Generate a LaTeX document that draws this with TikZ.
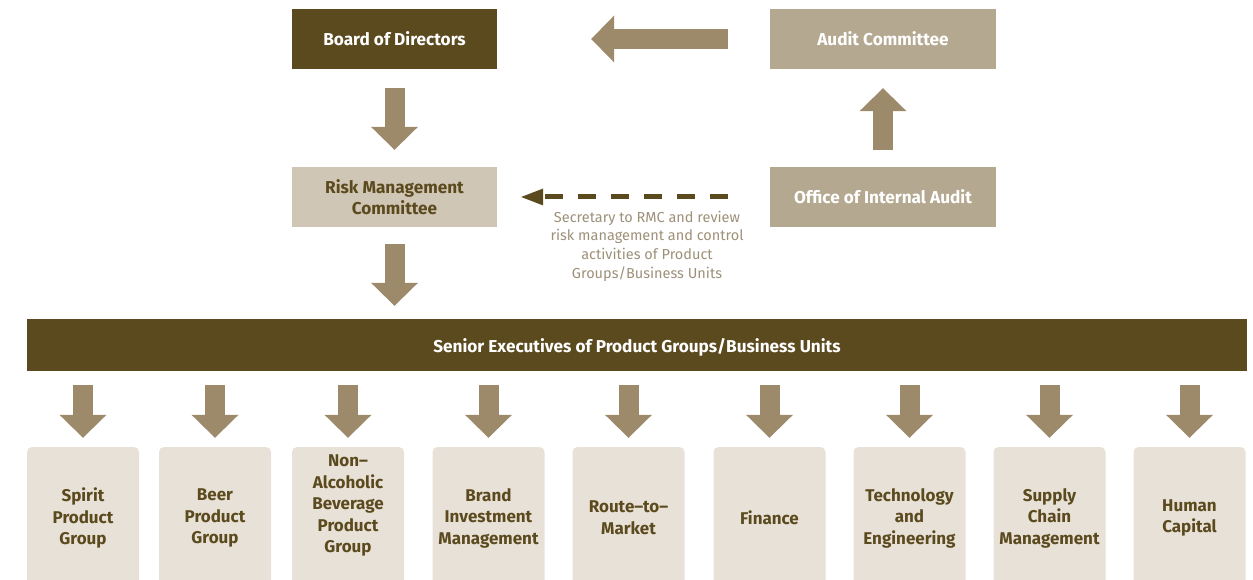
\documentclass[tikz,border=0pt]{standalone}
\usepackage{fontspec}
\setmainfont{Fira Sans}
\usetikzlibrary{arrows.meta}
\definecolor{dkbrown}{HTML}{5B4A1E}
\definecolor{arrowc}{HTML}{9C8A6B}
\definecolor{auditc}{HTML}{B4A890}
\definecolor{rmcc}{HTML}{D0C6B6}
\definecolor{unitc}{HTML}{E8E1D7}
\definecolor{capc}{HTML}{9D9079}
\begin{document}
\begin{tikzpicture}[x=1pt,y=-1pt,
  topbox/.style={rectangle, inner sep=0pt, minimum height=60pt, text depth=0pt, align=center, font=\fontsize{17.2}{20.5}\selectfont\bfseries},
  unitbox/.style={rectangle, rounded corners=5pt, fill=unitc, inner sep=0pt, minimum width=112pt, minimum height=142pt, text=dkbrown, align=center, font=\fontsize{17}{21.5}\selectfont\bfseries},
  barrow/.style={arrowc, line width=20pt, -{Triangle[length=23pt,width=47pt,line width=0pt]}},
  darrow/.style={dkbrown, line width=5pt, dash pattern=on 18pt off 15pt, -{Triangle[length=22pt,width=17pt,line width=0pt]}}
]
\clip (0,0) rectangle (1253,580);
\node[topbox, fill=dkbrown, text=white, minimum width=205pt] (bod) at (394.5,39) {Board of Directors};
\node[topbox, fill=auditc, text=white, minimum width=226pt] (audit) at (883,39) {Audit Committee};
\node[topbox, fill=rmcc, text=dkbrown, minimum width=205pt] (rmc) at (394.5,197) {Risk Management\\Committee};
\node[topbox, fill=auditc, text=white, minimum width=226pt] (office) at (883,197) {Office of Internal Audit};
\node[rectangle, fill=dkbrown, text=white, inner sep=0pt, minimum width=1220pt, minimum height=52pt, text depth=0pt, font=\fontsize{17.2}{20}\selectfont\bfseries] (senior) at (637,345) {Senior Executives of Product Groups/Business Units};
\node[text=capc, align=center, font=\fontsize{14.5}{18.7}\selectfont] (cap) at (647,246) {Secretary to RMC and review\\risk management and control\\activities of Product\\Groups/Business Units};

\draw[barrow] ([xshift=-42pt]audit.west) -- ([xshift=94pt]bod.east);
\draw[barrow] ([yshift=-19pt]bod.south) -- ([yshift=17pt]rmc.north);
\draw[barrow] ([yshift=17pt]office.north) -- ([yshift=-19pt]audit.south);
\draw[darrow] ([xshift=-42pt]office.west) -- ([xshift=24pt]rmc.east);
\draw[barrow] ([yshift=-17pt]rmc.south) -- ([yshift=13pt]rmc.south|-senior.north);

\node[unitbox] (u1) at (83,518) {Spirit\\Product\\Group};
\node[unitbox] (u2) at (215,518) {Beer\\Product\\Group};
\node[unitbox] (u3) at (348,518) {Non–\\Alcoholic\\Beverage\\Product\\Group\\\strut};
\node[unitbox] (u4) at (488.5,518) {Brand\\Investment\\Management};
\node[unitbox] (u5) at (628.5,518) {Route–to–\\Market};
\node[unitbox] (u6) at (769.5,518) {Finance};
\node[unitbox] (u7) at (909.5,518) {Technology\\and\\Engineering};
\node[unitbox] (u8) at (1049.5,518) {Supply\\Chain\\Management};
\node[unitbox] (u9) at (1189.5,518) {Human\\Capital};
\foreach \u in {u1,u2,u3,u4,u5,u6,u7,u8,u9}{
  \draw[barrow] ([yshift=-14pt]\u.north|-senior.south) -- ([yshift=9pt]\u.north);
}
\end{tikzpicture}
\end{document}
